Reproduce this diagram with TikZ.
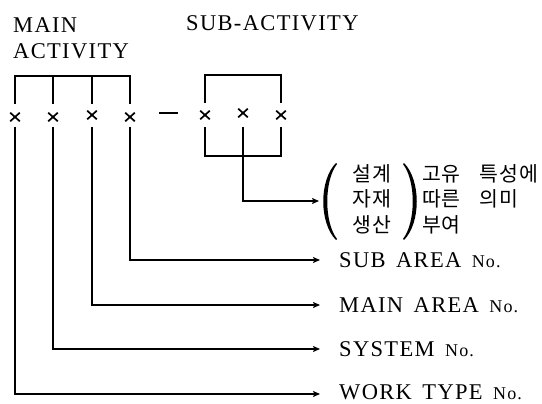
\documentclass[tikz,border=0pt]{standalone}
\usepackage{fontspec}
\setmainfont{Liberation Serif}
\newfontfamily\labelfont[LetterSpace=6,WordSpace=1.5]{Liberation Serif}
\newfontfamily\kofont[LetterSpace=4]{Noto Sans CJK KR}
\usetikzlibrary{arrows.meta,shapes.misc,calc}
\newcommand\nolbl{{\fontsize{18}{18}\selectfont No.}}
\tikzset{
  wire/.style={line width=1.3pt, line join=miter},
  feed/.style={wire, -{Stealth[length=7pt,width=6pt,inset=1.5pt]}},
  xmark/.style={cross out, draw, line width=1.7pt, minimum width=8pt,
                minimum height=7pt, inner sep=0pt},
  caption/.style={inner sep=0pt, font=\labelfont\fontsize{22.5}{22.5}\selectfont},
  kor/.style={inner sep=0pt, font=\kofont\fontsize{20.5}{25.5}\selectfont},
}
\begin{document}
\begin{tikzpicture}[x=1pt,y=-1pt]
\useasboundingbox (0,0) rectangle (542,404);

% headings
\node[caption, anchor=base west] (tmain) at (13,33) {MAIN};
\node[caption, anchor=base west] (tact)  at (13,59) {ACTIVITY};
\node[caption, anchor=base west] (tsub)  at (186,31) {SUB-ACTIVITY};

% code positions
\node[xmark] (m1) at (15,117) {};
\node[xmark] (m2) at (53,117) {};
\node[xmark] (m3) at (92,115) {};
\node[xmark] (m4) at (130,117) {};
\node[fill, minimum width=19pt, minimum height=1.4pt, inner sep=0pt] (sep) at (168,113) {};
\node[xmark] (s1) at (205,115) {};
\node[xmark] (s2) at (243,113) {};
\node[xmark] (s3) at (281,115) {};

% reference heights
\coordinate (top)  at (0,76);
\coordinate (brk)  at (0,104);
\coordinate (stop) at (0,75);
\coordinate (sbrk) at (0,103);
\coordinate (low)  at (0,127);
\coordinate (sbot) at (0,156);

% brackets above the codes
\draw[wire] (m1 |- brk) |- (m4 |- top) -- (m4 |- brk);
\draw[wire] (m2 |- top) -- (m2 |- brk);
\draw[wire] (m3 |- top) -- (m3 |- brk);
\draw[wire] (s1 |- sbrk) |- (s3 |- stop) -- (s3 |- sbrk);

% bracket below the sub-activity codes
\draw[wire] (s1 |- low) |- (s3 |- sbot) -- (s3 |- low);

% explanation labels
\node[caption, anchor=west] (lsub)  at (339,260) {SUB AREA \nolbl};
\node[caption, anchor=west] (lmain) at (339,305) {MAIN AREA \nolbl};
\node[caption, anchor=west] (lsys)  at (339,349) {SYSTEM \nolbl};
\node[caption, anchor=west] (lwork) at (339,392) {WORK TYPE \nolbl};
\coordinate (lworkin) at (339,394);

% Korean note with parentheses
\node[kor, align=center] (kl) at (372,199) {설계\\자재\\생산};
\node[kor, align=left, anchor=west] (kr) at (422,199)
  {고유\hspace{19pt}특성에\\따른\hspace{19pt}의미\\부여};
\fill (336,163) .. controls (319,180) and (319,223) .. (336,240)
  -- (337,239) .. controls (324,222) and (324,181) .. (337,164) -- cycle;
\fill (404,163) .. controls (421,180) and (421,223) .. (404,240)
  -- (403,239) .. controls (416,222) and (416,181) .. (403,164) -- cycle;
\coordinate (pin) at (319,201);

% leaders from the codes to their meanings
\draw[feed] (s2 |- low) |- (pin);
\draw[feed, shorten >=19pt] (m4 |- low) |- (lsub.west);
\draw[feed, shorten >=19pt] (m3 |- low) |- (lmain.west);
\draw[feed, shorten >=19pt] (m2 |- low) |- (lsys.west);
\draw[feed, shorten >=19pt] (m1 |- low) |- (lworkin);
\end{tikzpicture}
\end{document}
